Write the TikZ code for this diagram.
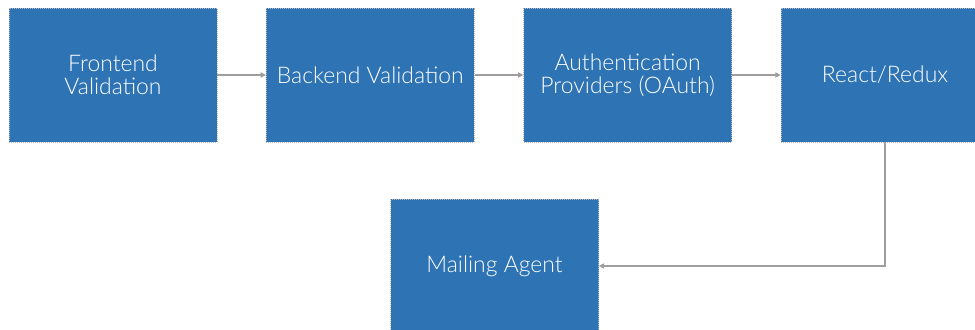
\documentclass[tikz,border=0pt]{standalone}
\usepackage{fontspec}
\setmainfont{Lato}[UprightFont={* Light}]
\usepackage{xcolor}
\usetikzlibrary{arrows.meta,positioning}
\definecolor{boxblue}{RGB}{46,116,181}
\definecolor{linkgray}{RGB}{158,158,158}
\tikzset{
	stage/.style={
			fill=boxblue, draw=gray!55, densely dotted, line width=0.5pt,
			minimum width=156pt, minimum height=100.5pt,
			text=white, align=center, font=\fontsize{17.2}{17}\selectfont
		},
	link/.style={-{Triangle[length=4pt,width=4pt]}, solid, draw=linkgray, line width=0.8pt}
}

\begin{document}
\begin{tikzpicture}[x=0.75pt, y=-0.75pt]
    \useasboundingbox (0,0) rectangle (975,329);

    \node[stage] (fe) at (113,75) {Frontend\\Validation};
    \node[stage, right=36.5pt of fe] (be) {Backend Validation};
    \node[stage, right=36.5pt of be] (auth) {Authentication\\Providers (OAuth)};
    \node[stage, right=36.5pt of auth] (rr) {React/Redux};
    \node[stage] (mail) at (494.5,266) {Mailing Agent};

    \draw[link] (fe) -- (be);
    \draw[link] (be) -- (auth);
    \draw[link] (auth) -- (rr);
    \draw[link] (rr.south) |- (mail.east);
  \end{tikzpicture}
\end{document}
